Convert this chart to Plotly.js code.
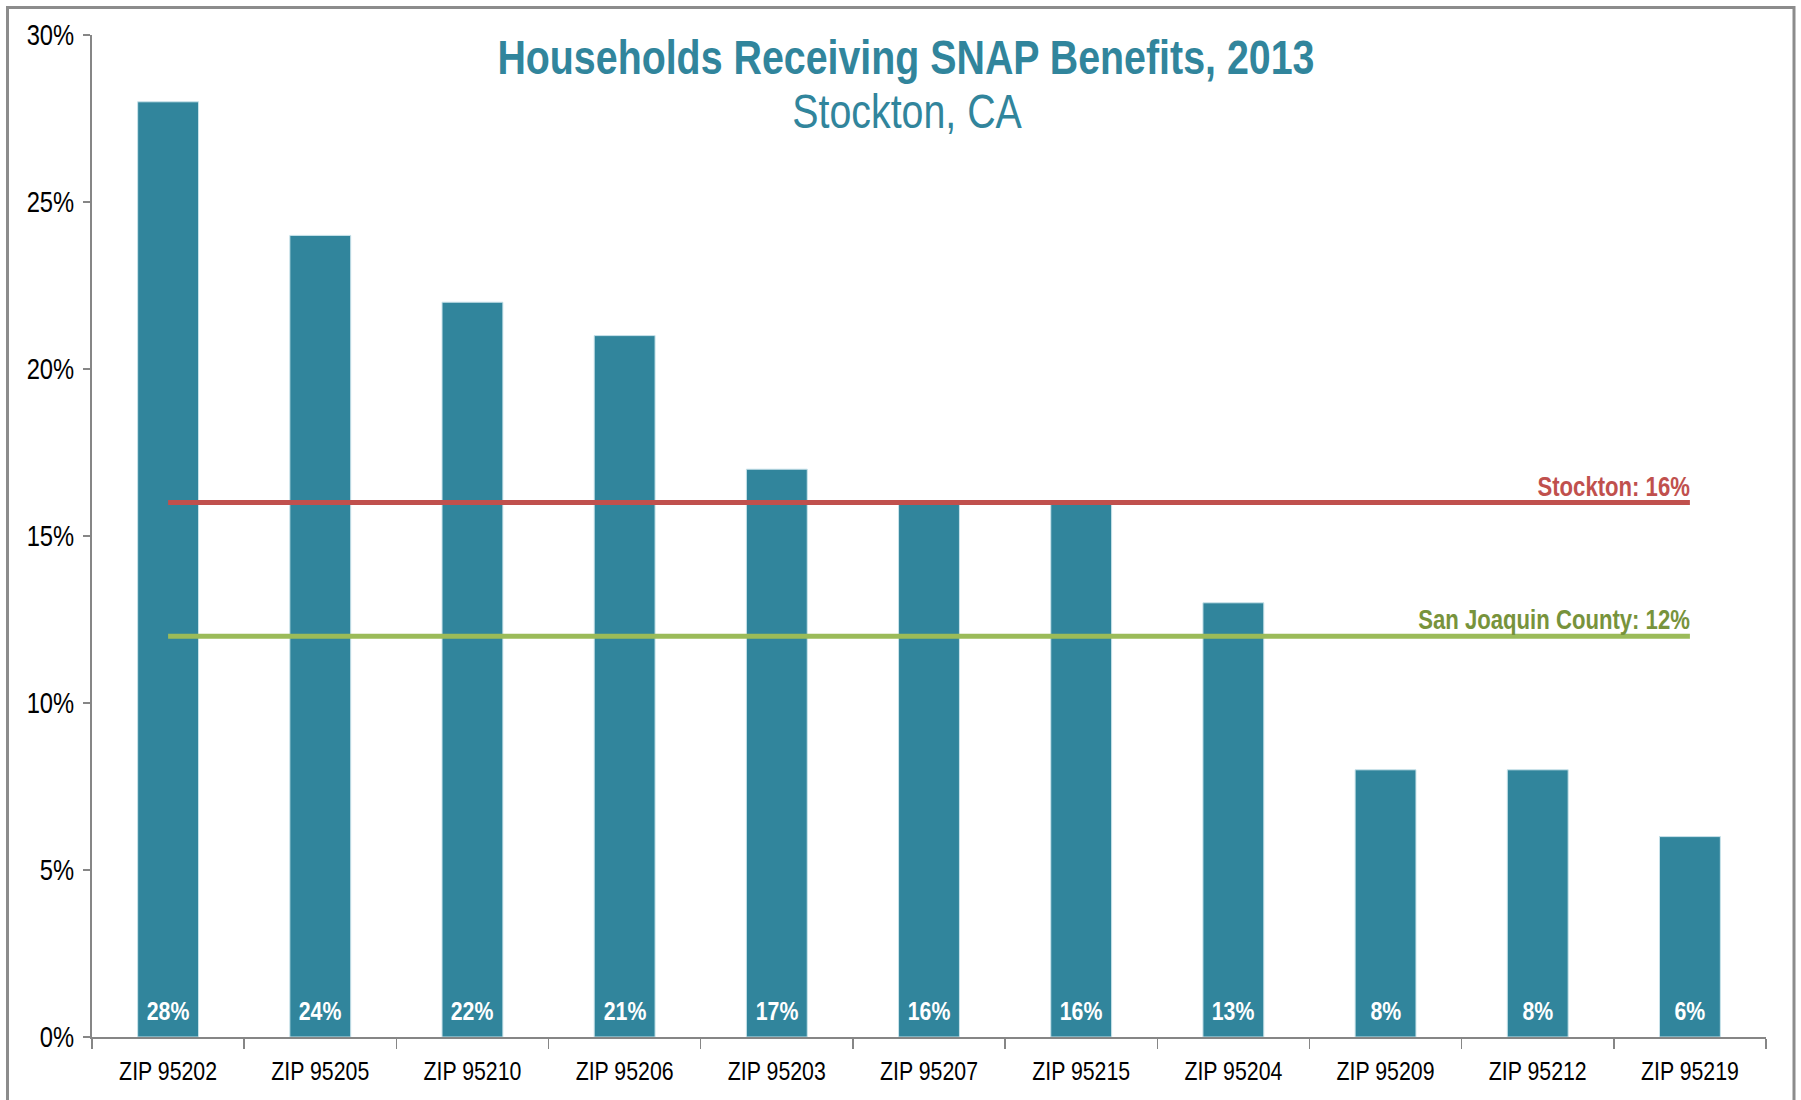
<!DOCTYPE html>
<html>
<head>
<meta charset="utf-8">
<script src="https://cdn.plot.ly/plotly-3.0.1.min.js"></script>
<style>
  html, body { margin: 0; padding: 0; background: #ffffff; }
  #chart { width: 1801px; height: 1100px; }
</style>
</head>
<body>
<div id="chart"></div>
<script>
const categories = ["ZIP 95202", "ZIP 95205", "ZIP 95210", "ZIP 95206", "ZIP 95203", "ZIP 95207", "ZIP 95215", "ZIP 95204", "ZIP 95209", "ZIP 95212", "ZIP 95219"];
const snapShare = [28, 24, 22, 21, 17, 16, 16, 13, 8, 8, 6];
const stocktonShare = 16;
const countyShare = 12;
const stocktonLabel = "Stockton: 16%";
const countyLabel = "San Joaquin County: 12%";
const titleText = "Households Receiving SNAP Benefits, 2013";
const subtitleText = "Stockton, CA";

const FONT = "Liberation Sans, Arial, sans-serif";
const NARROW_SCALE = 0.82;   // emulate a condensed (Arial Narrow-like) face
const teal = "#31859C";

const firstCat = categories[0];
const lastCat = categories[categories.length - 1];

const traces = [
  {
    type: "bar",
    x: categories,
    y: snapShare,
    marker: { color: teal, line: { color: "#c9e3ea", width: 1 } },
    hoverinfo: "x+y",
    showlegend: false
  },
  {
    type: "scatter",
    mode: "lines+text",
    x: [firstCat, lastCat],
    y: [stocktonShare, stocktonShare],
    line: { color: "#C0504D", width: 5 },
    text: ["", stocktonLabel],
    textposition: "top left",
    textfont: { family: FONT, size: 27, color: "#C0504D", weight: "bold" },
    showlegend: false,
    cliponaxis: false
  },
  {
    type: "scatter",
    mode: "lines+text",
    x: [firstCat, lastCat],
    y: [countyShare, countyShare],
    line: { color: "#9BBB59", width: 5 },
    text: ["", countyLabel],
    textposition: "top left",
    textfont: { family: FONT, size: 27, color: "#77933C", weight: "bold" },
    showlegend: false,
    cliponaxis: false
  }
];

const barLabels = categories.map((c, i) => ({
  text: "<b>" + snapShare[i] + "%</b>",
  x: c, y: 0,
  xref: "x", yref: "y",
  xanchor: "center", yanchor: "bottom",
  yshift: 9,
  showarrow: false,
  font: { family: FONT, size: 26, color: "#ffffff" }
}));

const layout = {
  width: 1801,
  height: 1100,
  margin: { l: 92, r: 35, t: 35, b: 63, pad: 0 },
  paper_bgcolor: "#ffffff",
  plot_bgcolor: "#ffffff",
  bargap: 0.6,
  font: { family: FONT, color: "#000000" },
  title: {
    text: "<b>" + titleText + "</b>",
    font: { family: FONT, size: 48, color: teal },
    x: 0.503,
    xanchor: "center",
    xref: "container",
    y: 1 - 57 / 1100,
    yanchor: "middle",
    yref: "container"
  },
  annotations: [
    {
      text: subtitleText,
      xref: "paper", yref: "paper",
      x: (907 - 92) / 1674, y: 1 - (111 - 35) / 1002,
      xanchor: "center", yanchor: "middle",
      showarrow: false,
      font: { family: FONT, size: 48, color: teal }
    }
  ].concat(barLabels),
  xaxis: {
    type: "category",
    range: [-0.5, categories.length - 0.5],
    showline: true,
    linecolor: "#868686",
    linewidth: 2,
    ticks: "outside",
    tickson: "boundaries",
    ticklen: 10,
    tickcolor: "#868686",
    tickwidth: 1.5,
    ticklabelstandoff: 10,
    showgrid: false,
    tickfont: { family: FONT, size: 26, color: "#000000" },
    fixedrange: true
  },
  yaxis: {
    range: [0, 30],
    dtick: 5,
    tick0: 0,
    ticksuffix: "%",
    showline: true,
    linecolor: "#868686",
    linewidth: 2,
    ticks: "outside",
    ticklen: 7,
    tickcolor: "#868686",
    tickwidth: 1.5,
    ticklabelstandoff: 3,
    showgrid: false,
    zeroline: false,
    tickfont: { family: FONT, size: 29, color: "#000000" },
    fixedrange: true
  },
  shapes: [
    {
      type: "rect",
      xref: "paper", yref: "paper",
      x0: (7.5 - 92) / 1674, x1: (1794 - 92) / 1674,
      y0: -0.1, y1: 1 - (7.5 - 35) / 1002,
      line: { color: "#8c8c8c", width: 3 },
      fillcolor: "rgba(0,0,0,0)",
      layer: "above"
    }
  ]
};

function condenseText(gd, s) {
  gd.querySelectorAll("svg text").forEach(t => {
    const x = parseFloat(t.getAttribute("x")) || 0;
    const prev = t.getAttribute("transform") || "";
    t.setAttribute("transform", (prev + " translate(" + x + ",0) scale(" + s + ",1) translate(" + (-x) + ",0)").trim());
  });
}

Plotly.newPlot("chart", traces, layout, { displayModeBar: false, staticPlot: true })
  .then(gd => condenseText(gd, NARROW_SCALE));
</script>
</body>
</html>
